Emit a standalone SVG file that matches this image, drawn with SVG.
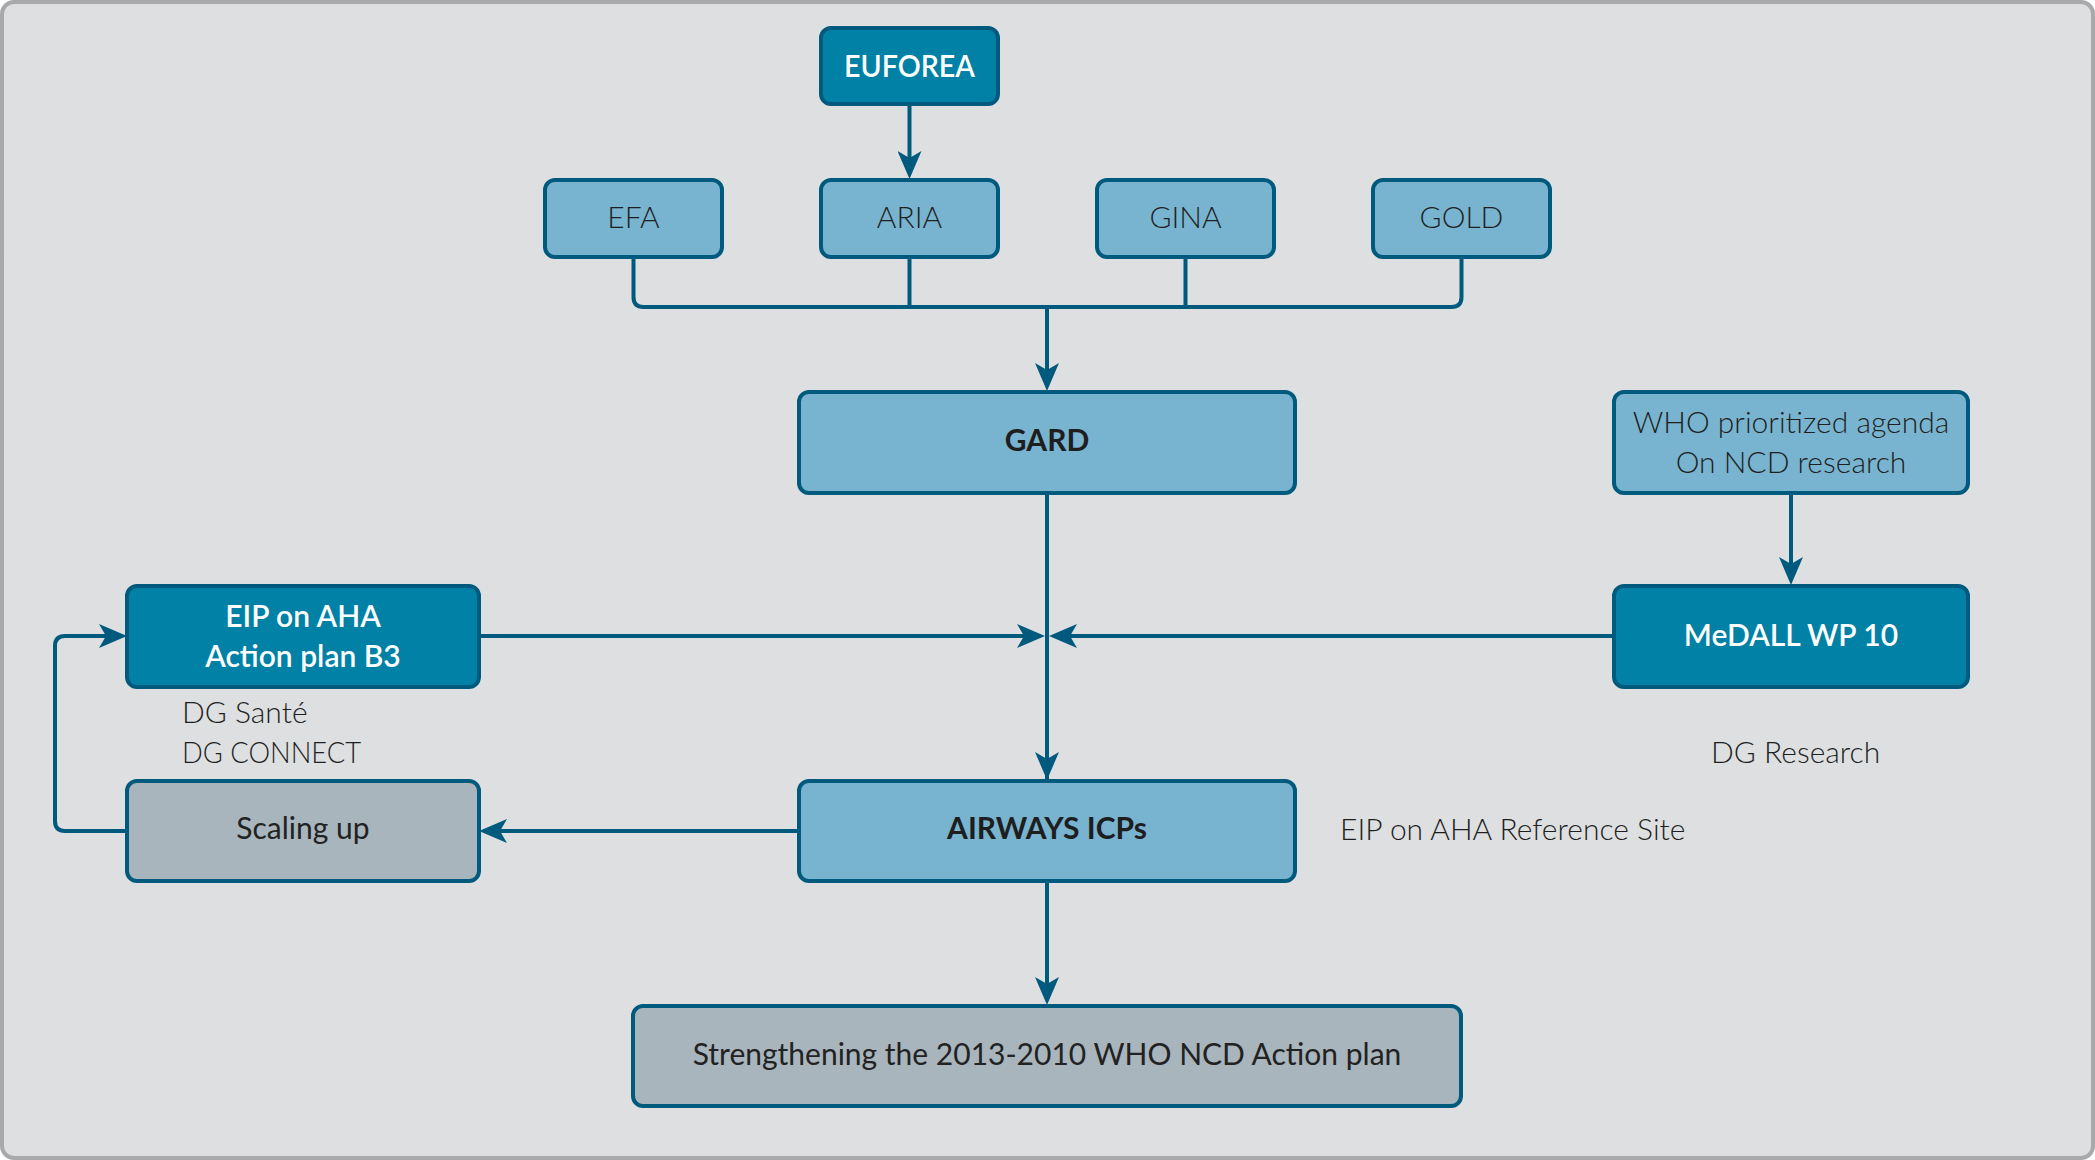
<svg xmlns="http://www.w3.org/2000/svg" width="2095" height="1160" viewBox="0 0 2095 1160">
<style>
.box{stroke:#005a7d;stroke-width:4}
.lt{fill:#78b4d0}
.dk{fill:#0081a5}
.gr{fill:#a8b5bd}
.t{font-family:"Lato","Noto Sans",sans-serif;font-size:30px}
.thin{font-weight:300;fill:#1f1f1f}
.reg{font-weight:400;fill:#222}
.bold{font-weight:700;fill:#1e1e1e}
.wh{font-weight:600;fill:#ffffff}
.c{text-anchor:middle}
.ln{fill:none;stroke:#005a7d;stroke-width:4}
.arr{marker-end:url(#ah)}
</style>
<defs>
<marker id="ah" markerUnits="userSpaceOnUse" viewBox="0 0 28 24" markerWidth="28" markerHeight="24" refX="8" refY="12" orient="auto">
<path d="M0,0 L28,12 L0,24 L7,12 Z" fill="#005a7d"/>
</marker>
</defs>
<rect x="2" y="2" width="2091" height="1156" rx="12" fill="#dddfe1" stroke="#a8a9ab" stroke-width="4"/>
<g id="connectors">
<path class="ln arr" d="M909.5,104 V159"/>
<path class="ln" d="M633.5,257 V297 Q633.5,307 643.5,307 H1451.5 Q1461.5,307 1461.5,297 V257"/>
<path class="ln" d="M909.5,257 V307"/>
<path class="ln" d="M1185.5,257 V307"/>
<path class="ln arr" d="M1047,307 V371"/>
<path class="ln" d="M1047,493 V781"/>
<path class="ln arr" d="M1047,493 V760"/>
<path class="ln arr" d="M479,636 H1025"/>
<path class="ln arr" d="M1614,636 H1069"/>
<path class="ln arr" d="M1791,493 V565"/>
<path class="ln arr" d="M799,831 H499"/>
<path class="ln arr" d="M127,831 H65 Q55,831 55,821 V646 Q55,636 65,636 H107"/>
<path class="ln arr" d="M1047,881 V985"/>
</g>
<g id="n-euforea"><rect class="box dk" x="821" y="28" width="177" height="76" rx="10"/><text class="t wh c" x="909.5" y="77" textLength="131" lengthAdjust="spacingAndGlyphs">EUFOREA</text></g>
<g id="n-efa"><rect class="box lt" x="545" y="180" width="177" height="77" rx="10"/><text class="t thin c" x="633.5" y="228">EFA</text></g>
<g id="n-aria"><rect class="box lt" x="821" y="180" width="177" height="77" rx="10"/><text class="t thin c" x="909.5" y="228">ARIA</text></g>
<g id="n-gina"><rect class="box lt" x="1097" y="180" width="177" height="77" rx="10"/><text class="t thin c" x="1185.5" y="228">GINA</text></g>
<g id="n-gold"><rect class="box lt" x="1373" y="180" width="177" height="77" rx="10"/><text class="t thin c" x="1461.5" y="228">GOLD</text></g>
<g id="n-gard"><rect class="box lt" x="799" y="392" width="496" height="101" rx="10"/><text class="t bold c" x="1047" y="451">GARD</text></g>
<g id="n-who"><rect class="box lt" x="1614" y="392" width="354" height="101" rx="10"/><text class="t thin c" x="1791" y="433">WHO prioritized agenda</text><text class="t thin c" x="1791" y="473">On NCD research</text></g>
<g id="n-eip"><rect class="box dk" x="127" y="586" width="352" height="101" rx="10"/><text class="t wh c" x="303" y="627">EIP on AHA</text><text class="t wh c" x="303" y="667">Action plan B3</text></g>
<g id="n-medall"><rect class="box dk" x="1614" y="586" width="354" height="101" rx="10"/><text class="t wh c" x="1791" y="646">MeDALL WP 10</text></g>
<g id="n-scaling"><rect class="box gr" x="127" y="781" width="352" height="100" rx="10"/><text class="t reg c" x="303" y="839">Scaling up</text></g>
<g id="n-airways"><rect class="box lt" x="799" y="781" width="496" height="100" rx="10"/><text class="t bold c" x="1047" y="839">AIRWAYS ICPs</text></g>
<g id="n-strength"><rect class="box gr" x="633" y="1006" width="828" height="100" rx="10"/><text class="t reg c" x="1047" y="1065">Strengthening the 2013-2010 WHO NCD Action plan</text></g>
<g id="labels">
<text class="t thin" x="182" y="723">DG Santé</text>
<text class="t thin" x="182" y="763" textLength="179" lengthAdjust="spacingAndGlyphs">DG CONNECT</text>
<text class="t thin" x="1711" y="763">DG Research</text>
<text class="t thin" x="1340" y="840">EIP on AHA Reference Site</text>
</g>
</svg>
